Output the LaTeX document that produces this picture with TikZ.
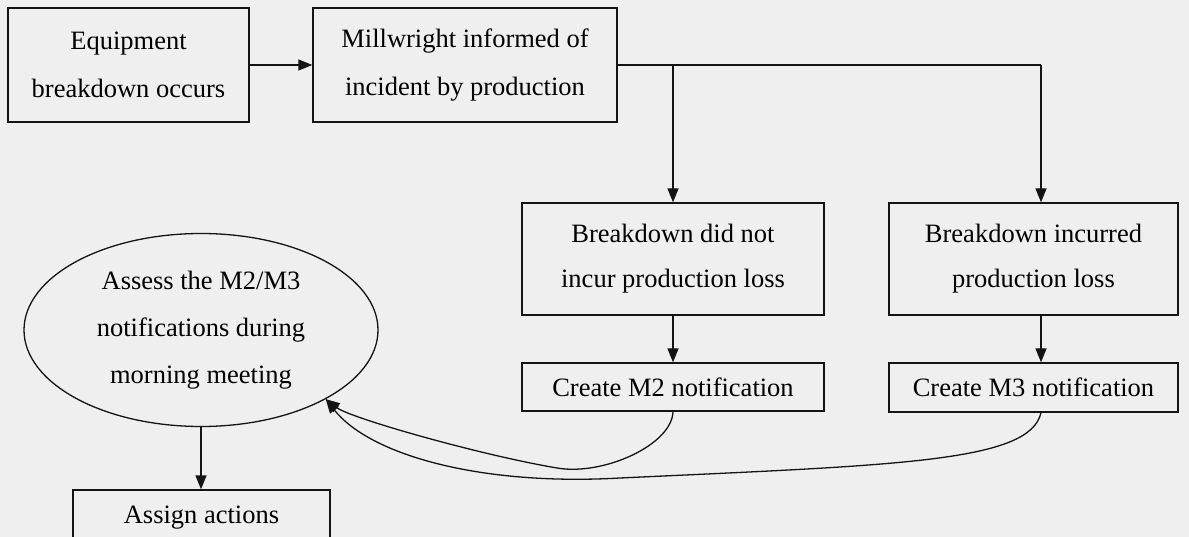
\documentclass[tikz,border=0pt]{standalone}
\usepackage{fontspec}
\setmainfont{Liberation Serif}
\usetikzlibrary{arrows.meta,shapes.geometric}
\definecolor{bgcol}{HTML}{EFEFEF}
\definecolor{lncol}{HTML}{141414}
\begin{document}
\begin{tikzpicture}[x=1pt,y=-1pt,
  every node/.style={font=\fontsize{26.5}{48}\selectfont, text=black},
  box/.style={draw=lncol, line width=1.3pt, rectangle, inner sep=0pt, align=center},
  ellbox/.style={draw=lncol, line width=1.3pt, ellipse, inner sep=0pt, align=center,
    minimum width=354pt, minimum height=193pt, font=\fontsize{26.5}{47}\selectfont},
  wire/.style={draw=lncol, line width=1.3pt},
  arr/.style={wire, -{Triangle[length=14pt,width=11pt]}}]
\useasboundingbox (0,0) rectangle (1189,537);
\clip (0,0) rectangle (1189,537);
\fill[bgcol] (0,0) rectangle (1189,537);

\node[box, minimum width=241pt, minimum height=114pt] (b1) at (128.5,65) {Equipment\\breakdown occurs};
\node[box, minimum width=304pt, minimum height=114pt] (b2) at (465,65) {Millwright informed of\\incident by production};
\node[box, minimum width=302pt, minimum height=112pt, font=\fontsize{26.5}{45}\selectfont] (b3) at (673,259) {Breakdown did not\\incur production loss};
\node[box, minimum width=289pt, minimum height=112pt, font=\fontsize{26.5}{45}\selectfont] (b4) at (1033.5,259) {Breakdown incurred\\production loss};
\node[box, minimum width=302pt, minimum height=48pt] (m2) at (673,387) {Create M2 notification};
\node[box, minimum width=289pt, minimum height=49pt] (m3) at (1033.5,387.5) {Create M3 notification};
\node[ellbox] (ell) at (201,330) {Assess the M2/M3\\notifications during\\morning meeting};
\node[box, minimum width=257pt, minimum height=55pt] (as) at (201.5,517.5) {Assign actions};

\coordinate (j1) at (673,65);
\coordinate (j2) at (1041,65);
\coordinate (tip) at (ell.-29.5);

\draw[arr] (b1) -- (b2);
\draw[wire] (b2.east) -- (j2);
\draw[arr] (j1) -- (j1 |- b3.north);
\draw[arr] (j2) -- (j2 |- b4.north);
\draw[arr] (b3) -- (m2);
\draw[arr] (b4.south -| j2) -- (m3.north -| j2);
\draw[arr] (ell.south) -- (ell.south |- as.north);

\draw[arr] (m2.south) .. controls (672,445) and (603,476) .. (557,468)
  .. controls (480,455) and (350,418) .. (tip);
\draw[arr] (m3.south -| j2) .. controls (1030,462) and (900,465) .. (620,478)
  .. controls (480,486) and (370,455) .. (tip);
\end{tikzpicture}
\end{document}
